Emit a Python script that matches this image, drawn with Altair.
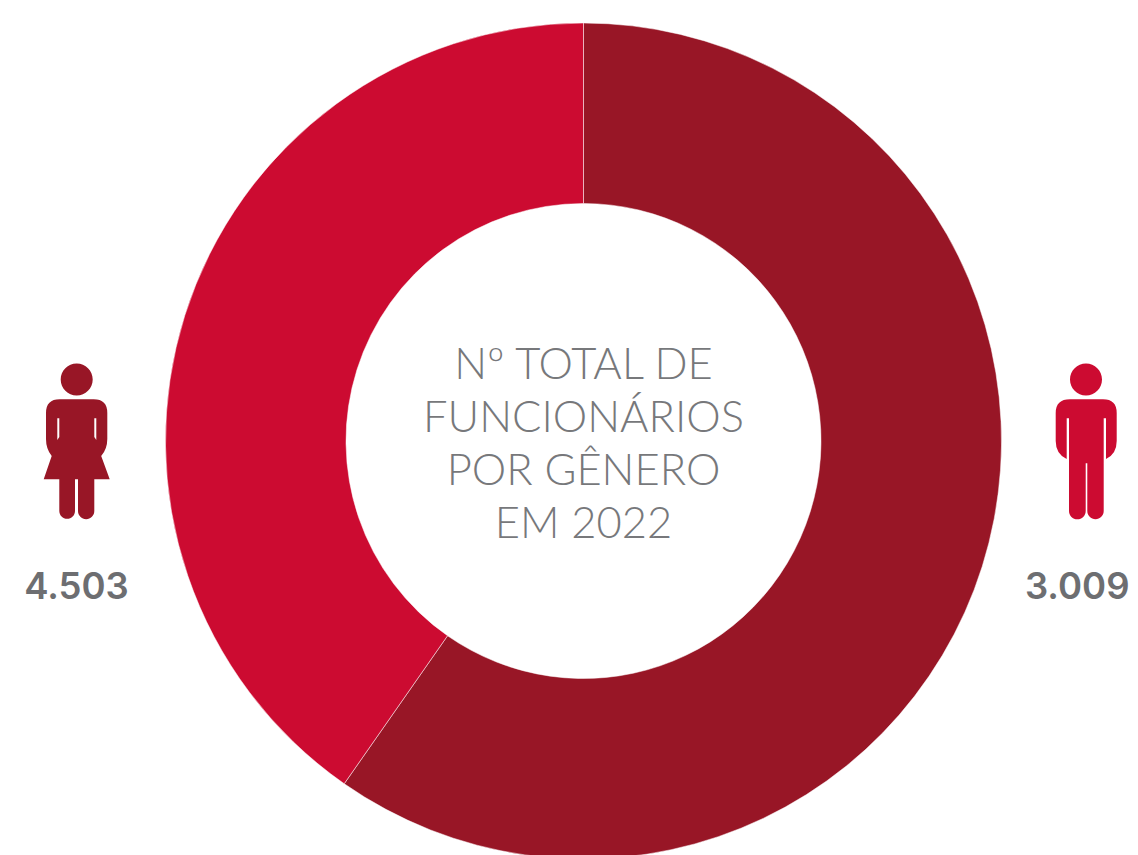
import altair as alt
import pandas as pd

generos = ["Mulheres", "Homens"]
parcelas_do_arco = [59.7, 40.3]  # shares as drawn in the picture, in percent
rotulos = ["4.503", "3.009"]
cores = ["#981626", "#cc0b31"]
titulo = "Nº TOTAL DE\nFUNCIONÁRIOS\nPOR GÊNERO\nEM 2022"

WOMAN = ("M0 -77.5 A16 16 0 1 1 0 -45.5 A16 16 0 1 1 0 -77.5 Z "
         "M-17 -41.7 L17 -41.7 Q30.6 -41.7 30.6 -28 L30.6 -2 Q30.6 8 24.5 15 L33 38.3 L17.6 38.3 "
         "L17.6 70 A8.15 8.15 0 0 1 1.3 70 L1.3 38.3 L-1.7 38.3 L-1.7 70 A7.85 7.85 0 0 1 -17.4 70 "
         "L-17.4 38.3 L-33 38.3 L-25 15 Q-30.7 8 -30.7 -2 L-30.7 -28 Q-30.7 -41.7 -17 -41.7 Z "
         "M-19.4 -22.7 L-19.4 -1 L-17.4 -4 L-17.4 -22.7 Z "
         "M17.6 -22.7 L17.6 -4 L19.6 -1 L19.6 -22.7 Z")
MAN = ("M0 -77.5 A16 16 0 1 1 0 -45.5 A16 16 0 1 1 0 -77.5 Z "
       "M-16 -41.7 L17 -41.7 Q30.7 -41.7 30.7 -28 L30.7 0 Q30.7 13 20 18 L20 -22.7 L17.7 -22.7 "
       "L17.7 70 A8.2 8.2 0 0 1 1.3 70 L1.3 22.3 L-0.3 22.3 L-0.3 70 A8.35 8.35 0 0 1 -17 70 "
       "L-17 -22.7 L-19.3 -22.7 L-19.3 18 Q-30.3 13 -30.3 0 L-30.3 -28 Q-30.3 -41.7 -16 -41.7 Z")

df = pd.DataFrame({"genero": generos, "valor": parcelas_do_arco, "ordem": [0, 1]})
CX, CY = 575.5, 433

arc = alt.Chart(df).mark_arc(radius=418, radius2=237.5, stroke="white", strokeWidth=0.5).encode(
    theta=alt.Theta("valor:Q", stack=True),
    order=alt.Order("ordem:Q"),
    color=alt.Color("genero:N", scale=alt.Scale(domain=generos, range=cores), legend=None),
    x=alt.value(CX), y=alt.value(CY),
)

center = alt.Chart(pd.DataFrame({"t": [titulo]})).mark_text(
    font="Lato", fontWeight=300, fontSize=43.5, color="#77787b",
    lineBreak="\n", lineHeight=53, align="center", baseline="middle",
).encode(text="t:N", x=alt.value(CX), y=alt.value(358))

def icon(path, color, x, y=433):
    return alt.Chart(pd.DataFrame({"a": [1]})).mark_point(
        shape=path, size=4, filled=True, opacity=1, color=color, strokeWidth=0
    ).encode(x=alt.value(x), y=alt.value(y))

def label(text, x, align="center", y=579.5):
    return alt.Chart(pd.DataFrame({"t": [text]})).mark_text(
        font="Inter", fontWeight=600, fontSize=36.5, color="#6d6e71", align=align, baseline="middle"
    ).encode(text="t:N", x=alt.value(x), y=alt.value(y))

chart = alt.layer(
    arc, center,
    icon(WOMAN, cores[0], 68.7), icon(MAN, cores[1], 1078),
    label(rotulos[0], 68.5), label(rotulos[1], 1121.5, align="right"),
).properties(
    width=1122, height=847, padding=0, autosize=alt.AutoSizeParams(type="none"),
    background="white",
).configure_view(stroke=None)

chart.save("out.html", embed_options={"renderer": "svg", "actions": False})
